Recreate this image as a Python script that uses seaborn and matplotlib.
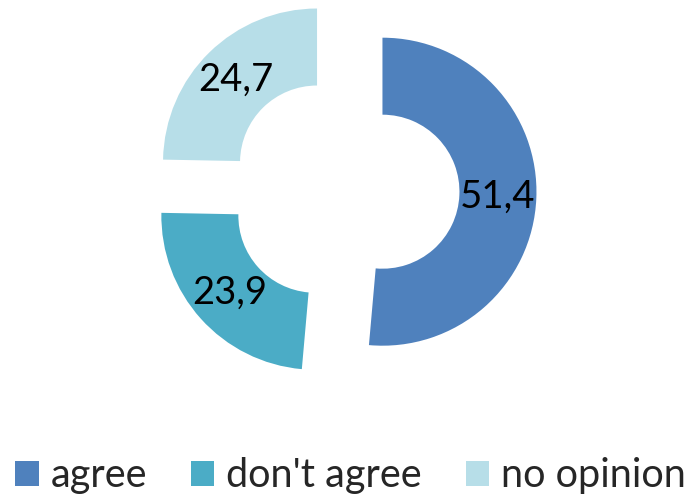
import matplotlib
matplotlib.use("Agg")
import matplotlib.pyplot as plt
import seaborn as sns

categories = ["agree", "don't agree", "no opinion"]
values = [51.4, 23.9, 24.7]
colors = ["#4F81BD", "#4BACC6", "#B7DEE8"]

sns.set_theme(style="white")
plt.rcParams['font.family'] = ['Lato', 'DejaVu Sans']

fig = plt.figure(figsize=(6.88, 4.97), dpi=100)
ax = fig.add_axes([0, 0, 1, 1])

labels_txt = [f"{v:.1f}".replace('.', ',') for v in values]
wedges, texts = ax.pie(values, colors=colors, startangle=90, counterclock=False,
                       explode=[0.25] * 3, radius=1.0,
                       wedgeprops=dict(width=0.5, linewidth=0),
                       labels=labels_txt, labeldistance=0.75,
                       textprops=dict(fontsize=27.5, color='black', ha='center', va='center'))
for t in texts:
    t.set_ha('center'); t.set_va('center')

ax.set_aspect('auto')
ax.set_xlim(-344 / 154, (688 - 344) / 154)
ax.set_ylim((190 - 497) / 154, 190 / 154)
ax.axis('off')

fig.legend(wedges, categories, loc='center', bbox_to_anchor=(0.5095, 1 - 476 / 497),
           ncol=3, frameon=False, fontsize=28.5, handlelength=0.6, handleheight=0.6,
           handletextpad=0.3, columnspacing=1.1, borderaxespad=0, borderpad=0)

fig.savefig("out.png", dpi=100)
